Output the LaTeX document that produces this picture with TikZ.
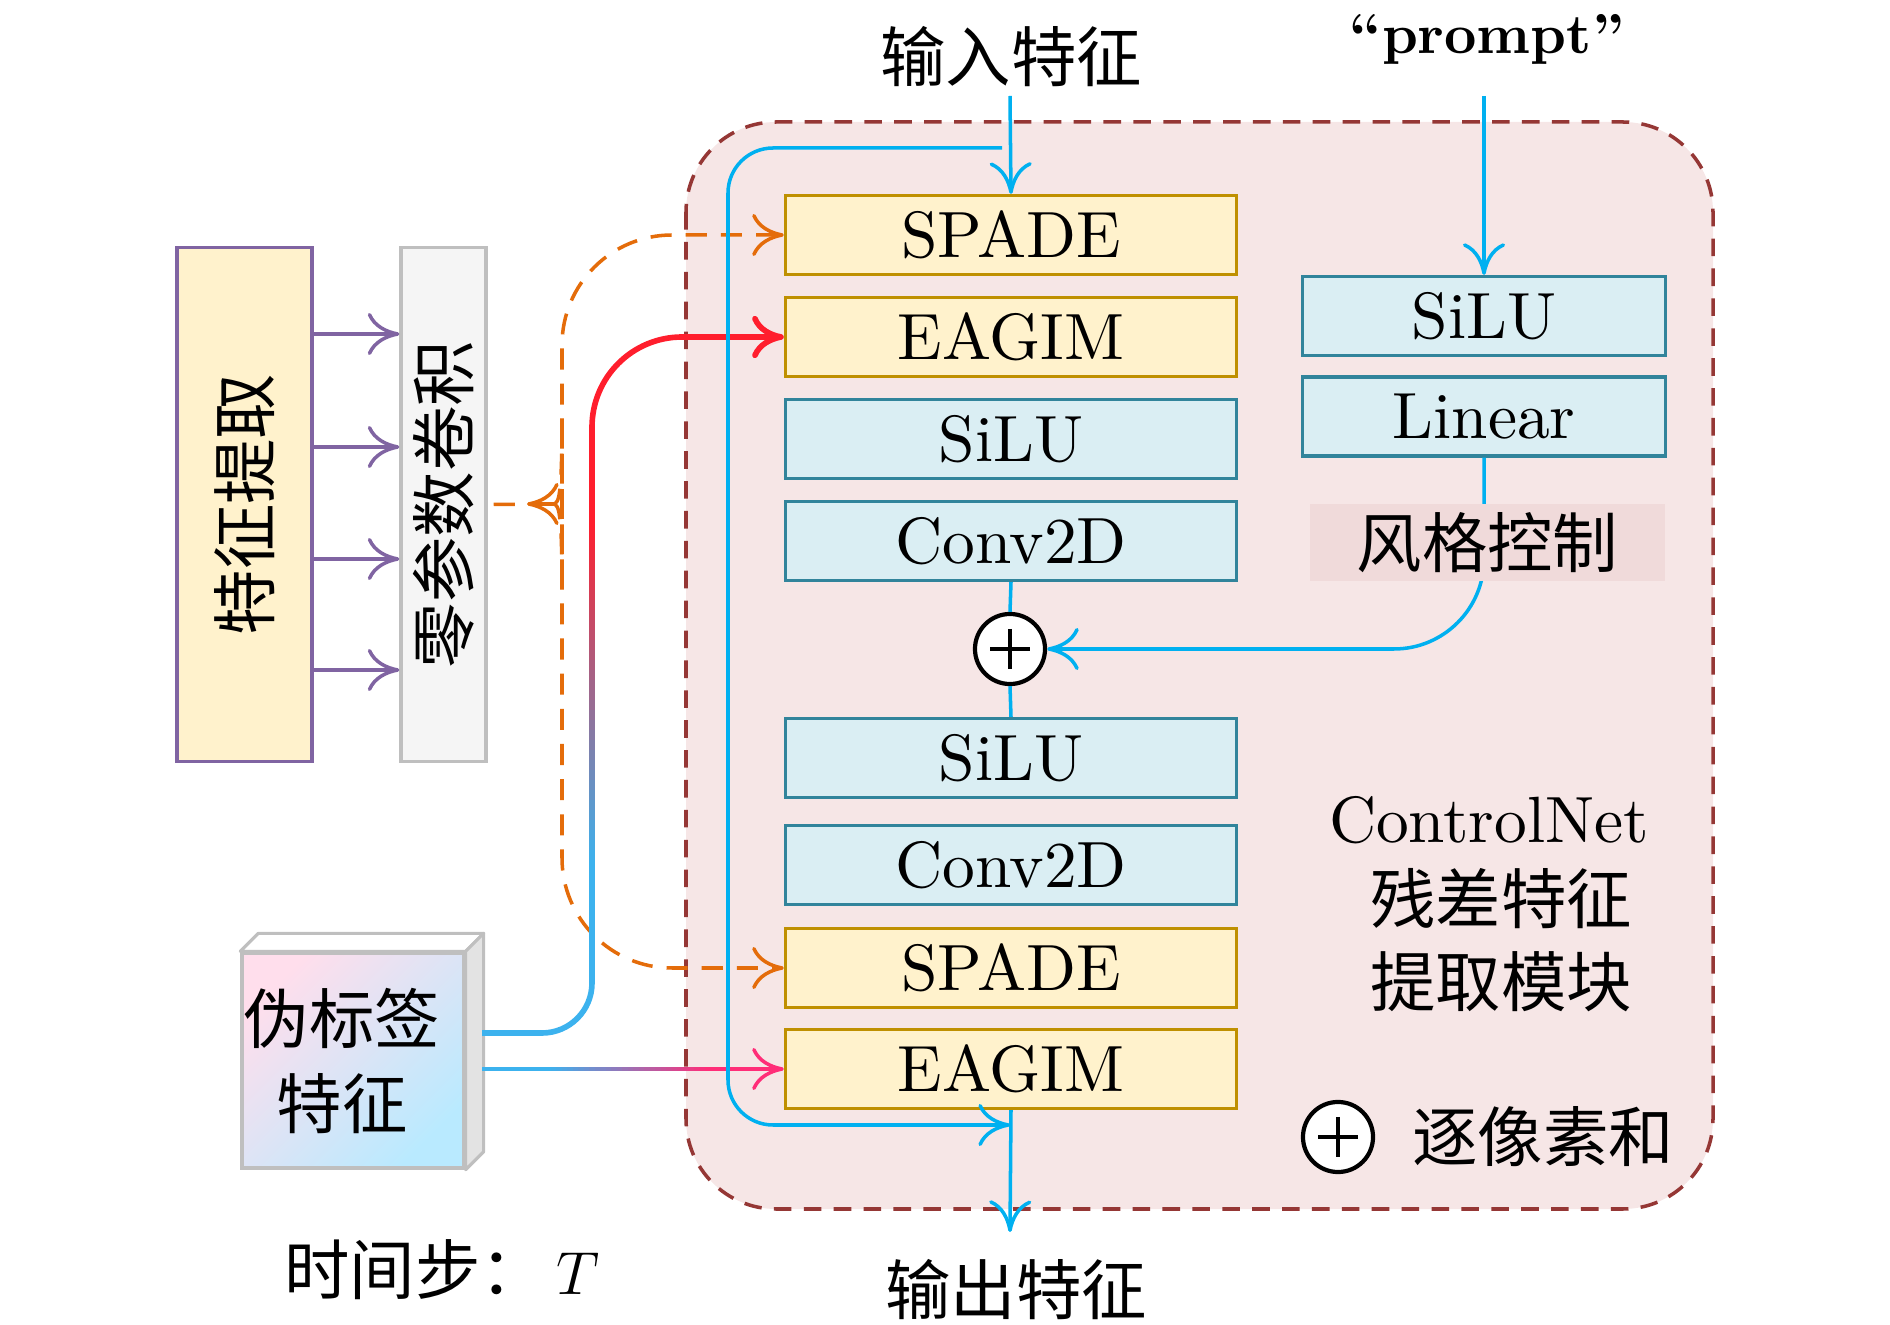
\documentclass[tikz,border=0pt]{standalone}
\usepackage{fontspec}
\setmainfont{lmroman10-regular.otf}[BoldFont=lmroman10-bold.otf, ItalicFont=lmroman10-italic.otf]
\newfontfamily\cjk{Noto Sans CJK SC}
\usetikzlibrary{arrows.meta,calc}
\definecolor{yfill}{HTML}{FFF2CC}
\definecolor{yborder}{HTML}{BF9000}
\definecolor{bfill}{HTML}{DAEEF3}
\definecolor{bborder}{HTML}{31849B}
\definecolor{cfill}{HTML}{F6E6E6}
\definecolor{cborder}{HTML}{953735}
\definecolor{sfill}{HTML}{F0DADA}
\definecolor{lblue}{HTML}{00B0F0}
\definecolor{orng}{HTML}{E46C0A}
\definecolor{purp}{HTML}{8064A2}
\definecolor{gfill}{HTML}{F5F5F5}
\definecolor{gborder}{HTML}{BFBFBF}
\definecolor{gblue}{RGB}{60,178,238}
\definecolor{gred}{RGB}{255,30,45}
\definecolor{gpink}{RGB}{255,45,120}
\definecolor{pinkL}{RGB}{255,222,236}
\definecolor{cyanL}{RGB}{185,234,255}
\begin{document}
\begin{tikzpicture}[x=0.01cm,y=-0.01cm,
  lm/.style={font=\fontsize{18.6pt}{22pt}\selectfont},
  ck/.style={font=\fontsize{18.6pt}{22pt}\selectfont\cjk},
  mbox/.style={draw, line width=0.9pt, minimum width=4.51cm, minimum height=0.79cm, inner sep=0pt, lm},
  ybox/.style={mbox, fill=yfill, draw=yborder},
  bbox/.style={mbox, fill=bfill, draw=bborder},
  rbox/.style={bbox, minimum width=3.62cm},
  cmarr/.style={-{Computer Modern Rightarrow[length=9pt,width=12pt,line width=1pt]}},
  bline/.style={draw=lblue, line width=1pt},
  oline/.style={draw=orng, line width=1pt, dash pattern=on 6pt off 4pt},
  pline/.style={draw=purp, line width=1pt},
  plusc/.style={circle, draw=black, fill=white, line width=1.2pt, minimum size=0.7cm, inner sep=0pt}
]
\useasboundingbox (0,0) rectangle (1890,1325);

% container
\draw[draw=cborder, fill=cfill, line width=1pt, dash pattern=on 5pt off 3.5pt, rounded corners=0.9cm] (686,122) rectangle (1713,1209);

% left boxes
\node[draw=purp, fill=yfill, line width=0.9pt, minimum width=1.35cm, minimum height=5.13cm, inner sep=0pt] (fe) at (244.5,504.5) {};
\node[ck, rotate=90] at (fe.center) {特征提取};
\node[draw=gborder, fill=gfill, line width=0.9pt, minimum width=0.85cm, minimum height=5.13cm, inner sep=0pt] (zc) at (443.5,504.5) {};
\node[ck, rotate=90] at (zc.center) {零参数卷积};
\foreach \yy in {334,447,559,670}{
  \draw[pline, cmarr] (fe.east |- 0,\yy) -- (zc.west |- 0,\yy);
}

% main column
\node[ybox] (sp1) at (1011,235) {SPADE};
\node[ybox] (ea1) at (1011,337) {EAGIM};
\node[bbox] (si1) at (1011,439) {SiLU};
\node[bbox] (cv1) at (1011,541) {Conv2D};
\node[plusc] (plus) at (1010,649) {};
\node[bbox] (si2) at (1011,758) {SiLU};
\node[bbox] (cv2) at (1011,865) {Conv2D};
\node[ybox] (sp2) at (1011,968) {SPADE};
\node[ybox] (ea2) at (1011,1069) {EAGIM};

% right column
\node[rbox] (sir) at (1484,316) {SiLU};
\node[rbox] (lin) at (1484,416.5) {Linear};

% labels
\node[ck] (inl) at (1011,57) {输入特征};
\node[font=\fontsize{16pt}{20pt}\selectfont\bfseries] (prl) at (1487,39) {``prompt''};
\node[ck] (outl) at (1016,1290) {输出特征};
\node[lm] (cn1) at (1489,820) {ControlNet};
\node[ck] (cn2) at (1501,899) {残差特征};
\node[ck] (cn3) at (1501,982) {提取模块};
\node[ck, anchor=west] (tl) at (272,1270) {时间步：\hspace{3pt}{\fontsize{18.6pt}{22pt}\selectfont$T$}};

% coordinates
\coordinate (inTop) at (1010,96);
\coordinate (prTop) at (1484,96);
\coordinate (outEnd) at (1010,1232);
\coordinate (bpStart) at (1002,148);
\coordinate (bpEnd) at (1010,1125);
\coordinate (brTip) at (550,504);
\coordinate (brHead) at (527,504);

% blue connectors
\draw[bline, cmarr] (inTop) -- (sp1.north);
\draw[bline, cmarr] (prTop) -- (sir.north);
\draw[bline] (cv1.south) -- (plus.north);
\draw[bline] (plus.south) -- (si2.north);
\draw[bline, cmarr] (ea2.south) -- (outEnd);
\draw[bline, cmarr, rounded corners=0.9cm] (lin.south) |- (plus.east);

% style node on top of the line
\node[fill=sfill, minimum width=3.55cm, minimum height=0.77cm, inner sep=0pt, ck] (sty) at (1487.5,542.5) {风格控制};

% plus sign
\draw[line width=1.3pt] ($(plus.center)+(-20,0)$) -- ($(plus.center)+(20,0)$);
\draw[line width=1.3pt] ($(plus.center)+(0,-20)$) -- ($(plus.center)+(0,20)$);

% legend
\node[plusc] (lgp) at (1338,1137) {};
\draw[line width=1.3pt] ($(lgp.center)+(-20,0)$) -- ($(lgp.center)+(20,0)$);
\draw[line width=1.3pt] ($(lgp.center)+(0,-20)$) -- ($(lgp.center)+(0,20)$);
\node[ck, anchor=west] (lgt) at (1400,1137) {逐像素和};

% orange brace
\draw[oline, cmarr, rounded corners=1.1cm] (brTip) .. controls (558,504) and (562,498) .. (562,482) |- (sp1.west);
\draw[oline, cmarr, rounded corners=1.1cm] (brTip) .. controls (558,504) and (562,510) .. (562,526) |- (sp2.west);
\draw[oline] (brTip) -- (zc.east);
\draw[orng, line width=1pt, cmarr] (brTip) -- (brHead);

% pseudo label 3D box
\node[draw=gborder, line width=0.9pt, top color=pinkL, bottom color=cyanL, shading angle=45, minimum width=2.22cm, minimum height=2.15cm, inner sep=0pt] (pl) at (353,1060.5) {};
\draw[draw=gborder, fill=white, line width=0.9pt, line join=round] (pl.north west) -- ++(18,-18) -- ($(pl.north east)+(18,-18)$) -- (pl.north east) -- cycle;
\draw[draw=gborder, fill=black!11, line width=0.9pt, line join=round] (pl.north east) -- ++(18,-18) -- ($(pl.south east)+(18,-18)$) -- (pl.south east) -- cycle;
\node[ck, align=center, font=\fontsize{18.6pt}{24pt}\selectfont\cjk] (plt) at (342,1061) {伪标签\\特征};
\coordinate (plA) at (482,1033);
\coordinate (plB) at (482,1069);

% gradient connector 1 (blue -> red) to EAGIM 1
\draw[draw=gblue, line width=1.6pt, rounded corners=0.5cm] (plA) -| (592,870);
\foreach \i in {0,...,34}{
  \pgfmathsetmacro\ya{870-\i*10}
  \pgfmathsetmacro\yb{\ya-10.8}
  \pgfmathtruncatemacro\p{\i*100/34}
  \draw[line width=1.6pt, gred!\p!gblue] (592,\ya) -- (592,\yb);
}
\draw[draw=gred, line width=1.6pt, rounded corners=0.9cm, -{Computer Modern Rightarrow[length=9pt,width=12pt,line width=1.6pt]}] (592,520) |- (ea1.west);

% gradient connector 2 (blue -> pink) to EAGIM 2
\draw[draw=gblue, line width=1.1pt] (plB) -- (545,1069);
\foreach \i in {0,...,29}{
  \pgfmathsetmacro\xa{545+\i*5.5}
  \pgfmathsetmacro\xb{\xa+6}
  \pgfmathtruncatemacro\p{\i*100/29}
  \draw[line width=1.1pt, gpink!\p!gblue] (\xa,1069) -- (\xb,1069);
}
\draw[draw=gpink, line width=1.1pt, cmarr] (710,1069) -- (ea2.west);

% bypass (drawn on top)
\draw[bline, cmarr, rounded corners=0.45cm] (bpStart) -| (728,1125) -- (bpEnd);
\end{tikzpicture}
\end{document}
